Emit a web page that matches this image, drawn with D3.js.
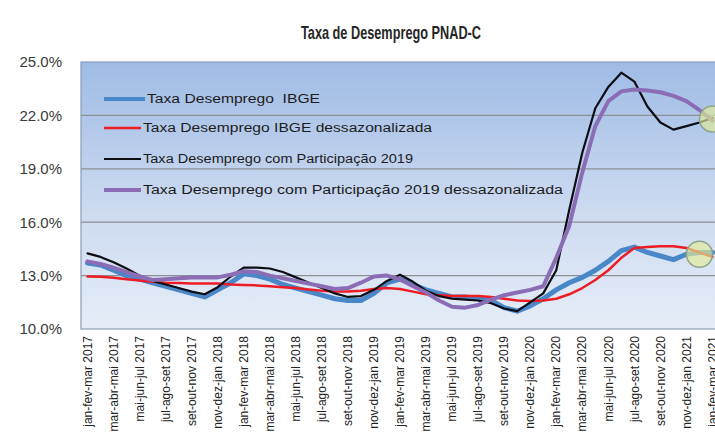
<!DOCTYPE html>
<html>
<head>
<meta charset="utf-8">
<script src="https://cdn.jsdelivr.net/npm/d3@7"></script>
<style>
    body { margin: 0; background: #fff; }
    svg { display: block; }
</style>
</head>
<body>
<svg id="chart"></svg>
<script>
// moving quarters, one per month (only every second one gets a label)
const periods = [
    "jan-fev-mar 2017", "fev-mar-abr 2017", "mar-abr-mai 2017", "abr-mai-jun 2017",
    "mai-jun-jul 2017", "jun-jul-ago 2017", "jul-ago-set 2017", "ago-set-out 2017",
    "set-out-nov 2017", "out-nov-dez 2017", "nov-dez-jan 2018", "dez-jan-fev 2018",
    "jan-fev-mar 2018", "fev-mar-abr 2018", "mar-abr-mai 2018", "abr-mai-jun 2018",
    "mai-jun-jul 2018", "jun-jul-ago 2018", "jul-ago-set 2018", "ago-set-out 2018",
    "set-out-nov 2018", "out-nov-dez 2018", "nov-dez-jan 2019", "dez-jan-fev 2019",
    "jan-fev-mar 2019", "fev-mar-abr 2019", "mar-abr-mai 2019", "abr-mai-jun 2019",
    "mai-jun-jul 2019", "jun-jul-ago 2019", "jul-ago-set 2019", "ago-set-out 2019",
    "set-out-nov 2019", "out-nov-dez 2019", "nov-dez-jan 2020", "dez-jan-fev 2020",
    "jan-fev-mar 2020", "fev-mar-abr 2020", "mar-abr-mai 2020", "abr-mai-jun 2020",
    "mai-jun-jul 2020", "jun-jul-ago 2020", "jul-ago-set 2020", "ago-set-out 2020",
    "set-out-nov 2020", "out-nov-dez 2020", "nov-dez-jan 2021", "dez-jan-fev 2021",
    "jan-fev-mar 2021"
]

// tick labels shown under the axis
const tickLabels = periods.filter((p, i) => i % 2 === 0)

// values in %
const ibge = [
    13.7, 13.6, 13.3, 13.0, 12.8, 12.6, 12.4, 12.2, 12.0, 11.8, 12.2, 12.6,
    13.1, 13.0, 12.8, 12.5, 12.3, 12.1, 11.9, 11.7, 11.6, 11.6, 12.0, 12.6,
    12.8, 12.5, 12.2, 12.0, 11.8, 11.8, 11.7, 11.6, 11.2, 11.0, 11.3, 11.7,
    12.2, 12.6, 12.9, 13.3, 13.8, 14.4, 14.6, 14.3, 14.1, 13.9, 14.2, 14.3,
    14.3
]
const ibgeDessaz = [
    12.95, 12.93, 12.88, 12.8, 12.72, 12.65, 12.6, 12.58, 12.55, 12.55, 12.55, 12.5,
    12.47, 12.45, 12.4, 12.35, 12.3, 12.22, 12.15, 12.1, 12.1, 12.15, 12.25, 12.3,
    12.25, 12.1, 11.95, 11.9, 11.85, 11.85, 11.85, 11.8, 11.7, 11.6, 11.58, 11.6,
    11.7, 11.95, 12.3, 12.75, 13.3, 14.0, 14.55, 14.6, 14.65, 14.65, 14.55, 14.3,
    14.05
]
const participacao = [
    14.25, 14.05, 13.75, 13.4, 13.0, 12.7, 12.5, 12.3, 12.1, 11.95, 12.35, 12.95,
    13.45, 13.45, 13.4, 13.2, 12.9, 12.6, 12.3, 12.0, 11.8, 11.85, 12.2, 12.7,
    13.05, 12.65, 12.15, 11.85, 11.7, 11.65, 11.6, 11.45, 11.15, 11.0, 11.5, 12.0,
    13.3, 16.7, 19.9, 22.4, 23.6, 24.4, 23.9, 22.5, 21.6, 21.2, 21.4, 21.6,
    21.85
]
const participacaoDessaz = [
    13.8, 13.65, 13.45, 13.2, 12.95, 12.75, 12.8, 12.85, 12.9, 12.9, 12.9, 13.05,
    13.25, 13.2, 13.0, 12.85, 12.7, 12.55, 12.4, 12.25, 12.3, 12.6, 12.95, 13.0,
    12.8, 12.4, 12.05, 11.6, 11.25, 11.2, 11.35, 11.65, 11.9, 12.05, 12.2, 12.4,
    14.0, 15.8, 18.8, 21.4, 22.8, 23.35, 23.45, 23.4, 23.3, 23.1, 22.8, 22.3,
    21.7
]

const seriesNames = [
    "Taxa Desemprego\u00a0\u00a0IBGE",
    "Taxa Desemprego IBGE dessazonalizada",
    "Taxa Desemprego com Participação 2019",
    "Taxa Desemprego com Participação 2019 dessazonalizada"
]
const yTicks = [10, 13, 16, 19, 22, 25]

// highlighted ends of the series (circles drawn at the right edge)
const highlightPeriods = ["jan-fev-mar 2021", "dez-jan-fev 2021"]
const highlightValues = [21.8, 14.2]

const width = 715
const height = 437
let margin = ({top: 62, right: -4, bottom: 108, left: 81})

const svg = d3.select("#chart")
    .attr("width", width)
    .attr("height", height)
    .attr("viewBox", [0, 0, width, height])

let x = d3.scaleBand()
    .domain(periods)
    .range([margin.left, width - margin.right])
    .padding(0)
let y = d3.scaleLinear()
    .domain([10, 25])
    .range([height - margin.bottom, margin.top])

let px = p => x(p) + x.bandwidth() / 2

// plot area background gradient
let defs = svg.append("defs")
let grad = defs.append("linearGradient")
    .attr("id", "plotBg")
    .attr("x1", 0).attr("y1", 0).attr("x2", 0).attr("y2", 1)
grad.append("stop").attr("offset", "0%").attr("stop-color", "#9fbbe5")
grad.append("stop").attr("offset", "55%").attr("stop-color", "#ccdaf0")
grad.append("stop").attr("offset", "100%").attr("stop-color", "#e6edf8")

svg.append("rect")
    .attr("x", margin.left)
    .attr("y", margin.top)
    .attr("width", width - margin.right - margin.left)
    .attr("height", height - margin.bottom - margin.top)
    .attr("fill", "url(#plotBg)")
    .attr("stroke", "#8a9cb4")
    .attr("stroke-width", 1.2)

// title
svg.append("text")
    .attr("x", 391)
    .attr("y", 39)
    .attr("text-anchor", "middle")
    .attr("font-family", "Liberation Sans, sans-serif")
    .attr("font-weight", "bold")
    .attr("font-size", 19)
    .attr("fill", "#262626")
    .attr("textLength", 180)
    .attr("lengthAdjust", "spacingAndGlyphs")
    .text("Taxa de Desemprego PNAD-C")

// gridlines
svg.append("g")
    .selectAll("line")
    .data(yTicks.filter(t => t > 10 && t < 25))
    .join("line")
    .attr("x1", margin.left)
    .attr("x2", width - margin.right)
    .attr("y1", d => y(d))
    .attr("y2", d => y(d))
    .attr("stroke", "#8c8f96")
    .attr("stroke-width", 1.2)

// y axis labels
let yAxis = g => g
    .attr("transform", `translate(${margin.left},0)`)
    .call(d3.axisLeft(y).tickValues(yTicks).tickFormat(d => d.toFixed(1) + "%").tickSize(0).tickPadding(19))
    .call(g => g.select(".domain").remove())
    .call(g => g.selectAll(".tick text")
        .attr("font-family", "Liberation Sans, sans-serif")
        .attr("font-size", 15)
        .attr("fill", "#3a3a3a"))

svg.append("g").call(yAxis)

// x axis labels, rotated
let xAxis = g => g
    .attr("transform", `translate(0,${height - margin.bottom})`)
    .call(d3.axisBottom(x).tickValues(tickLabels).tickSize(0))
    .call(g => g.select(".domain").remove())
    .call(g => g.selectAll(".tick text")
        .attr("font-family", "Liberation Sans, sans-serif")
        .attr("font-size", 12)
        .attr("fill", "#222")
        .attr("transform", "rotate(-90)")
        .attr("text-anchor", "end")
        .attr("x", -7)
        .attr("y", 0)
        .attr("dy", "0.35em"))

svg.append("g").call(xAxis)

// lines, in legend order
let series = [
    {name: seriesNames[0], values: ibge, color: "#4a87c9", width: 5},
    {name: seriesNames[1], values: ibgeDessaz, color: "#ee1c25", width: 2.5},
    {name: seriesNames[2], values: participacao, color: "#0d0d14", width: 2.2},
    {name: seriesNames[3], values: participacaoDessaz, color: "#8a6db5", width: 4}
]

let line = d3.line()
    .x((d, i) => px(periods[i]))
    .y(d => y(d))

svg.append("g")
    .attr("fill", "none")
    .attr("stroke-linejoin", "round")
    .attr("stroke-linecap", "round")
    .selectAll("path")
    .data(series)
    .join("path")
    .attr("stroke", d => d.color)
    .attr("stroke-width", d => d.width)
    .attr("d", d => line(d.values))

// highlight circles
svg.append("g")
    .selectAll("circle")
    .data(highlightPeriods)
    .join("circle")
    .attr("cx", d => px(d))
    .attr("cy", (d, i) => y(highlightValues[i]))
    .attr("r", 13)
    .attr("fill", "rgba(226,236,150,0.65)")
    .attr("stroke", "#8fa58a")
    .attr("stroke-width", 1.5)

// legend inside the plot
let legendY = [99, 128, 159, 190]
let legendTextX = [147, 143, 143, 143]
let legendTextLen = [173, 289, 270, 420]
let legend = svg.append("g")
    .attr("font-family", "Liberation Sans, sans-serif")
    .attr("font-size", 12)
    .attr("fill", "#1c1c1c")
legend.selectAll("line")
    .data(series)
    .join("line")
    .attr("x1", 104)
    .attr("x2", (d, i) => legendTextX[i] - 2)
    .attr("y1", (d, i) => legendY[i])
    .attr("y2", (d, i) => legendY[i])
    .attr("stroke", d => d.color)
    .attr("stroke-width", d => Math.min(d.width, 4))
legend.selectAll("text")
    .data(series)
    .join("text")
    .attr("x", (d, i) => legendTextX[i])
    .attr("y", (d, i) => legendY[i])
    .attr("dy", "0.35em")
    .attr("textLength", (d, i) => legendTextLen[i])
    .attr("lengthAdjust", "spacingAndGlyphs")
    .text(d => d.name)
</script>
</body>
</html>
